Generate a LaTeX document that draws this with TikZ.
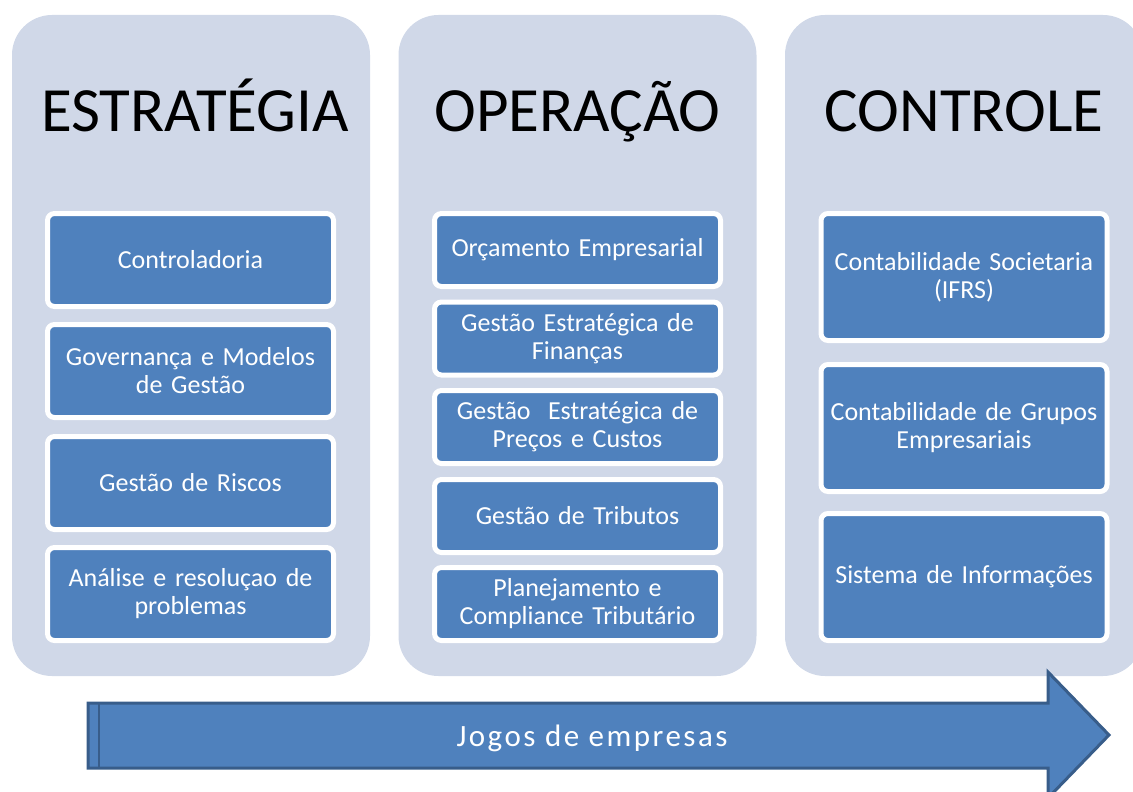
\documentclass[tikz,border=0pt]{standalone}
\usepackage{fontspec}
\setmainfont{Carlito}
\definecolor{panelfill}{HTML}{D0D8E8}
\definecolor{boxfill}{HTML}{4F81BD}
\definecolor{arrowline}{HTML}{385D8A}
\tikzset{
	panel/.style={fill=panelfill, rounded corners=40pt, minimum width=358pt, minimum height=661pt, inner sep=0pt},
	title/.style={font=\fontsize{63}{70}\selectfont, text=black, anchor=base},
	item/.style={fill=boxfill, draw=white, line width=5pt, rounded corners=7pt, minimum width=286pt, text width=284pt, align=center, text=white, font=\fontsize{26}{28}\selectfont, inner sep=0pt}
}
\begin{document}
\begin{tikzpicture}[x=1pt, y=-1pt]
	\useasboundingbox (0,0) rectangle (1133,792);
	\clip (0,0) rectangle (1133,792);

	\node [panel] (est) at (191, 345.5) {};
	\node [panel] (ope) at (577.5, 345.5) {};
	\node [panel] (con) at (964, 345.5) {};

	\node [title] (estT) at (195, 131) {ESTRATÉGIA};
	\node [title] (opeT) at (577.5, 131) {OPERAÇÃO};
	\node [title] (conT) at (964, 131) {CONTROLE};

	% estrategia
	\node [item, minimum height=93pt] (e1) at (190.5, 260) {Controladoria};
	\node [item, minimum height=93pt] (e2) at (190.5, 371) {Governança e Modelos\\de Gestão};
	\node [item, minimum height=93pt] (e3) at (190.5, 483) {Gestão de Riscos};
	\node [item, minimum height=93pt] (e4) at (190.5, 594) {Análise e resoluçao de\\problemas};

	% operacao
	\node [item, minimum height=73pt] (o1) at (577.5, 250) {Orçamento Empresarial};
	\node [item, minimum height=73pt] (o2) at (577.5, 338.5) {Gestão Estratégica de\\Finanças};
	\node [item, minimum height=73pt] (o3) at (577.5, 427) {Gestão\ \ Estratégica de\\Preços e Custos};
	\node [item, minimum height=73pt] (o4) at (577.5, 516) {Gestão de Tributos};
	\node [item, minimum height=73pt] (o5) at (577.5, 604) {Planejamento e\\Compliance Tributário};

	% controle
	\node [item, minimum height=127pt] (c1) at (964, 277) {Contabilidade Societaria\\(IFRS)};
	\node [item, minimum height=127pt] (c2) at (964, 428) {Contabilidade de Grupos\\Empresariais};
	\node [item, minimum height=127pt] (c3) at (964, 577) {Sistema de Informações};

	% seta
	\draw
		[fill=boxfill, draw=arrowline, line width=3pt, line join=miter]
		(88, 703) -- (1048, 703) -- (1048, 672) -- (1109, 735)
		-- (1048, 798) -- (1048, 768) -- (88, 768) -- cycle;
	\draw
		[arrowline, line width=2pt] (99, 703) -- (99, 768);

	\node [text=white, anchor=base, font=\fontsize{31}{36}\selectfont\addfontfeature{LetterSpace=8}] (jogos) at (592, 746) {Jogos de empresas};

\end{tikzpicture}
\end{document}
